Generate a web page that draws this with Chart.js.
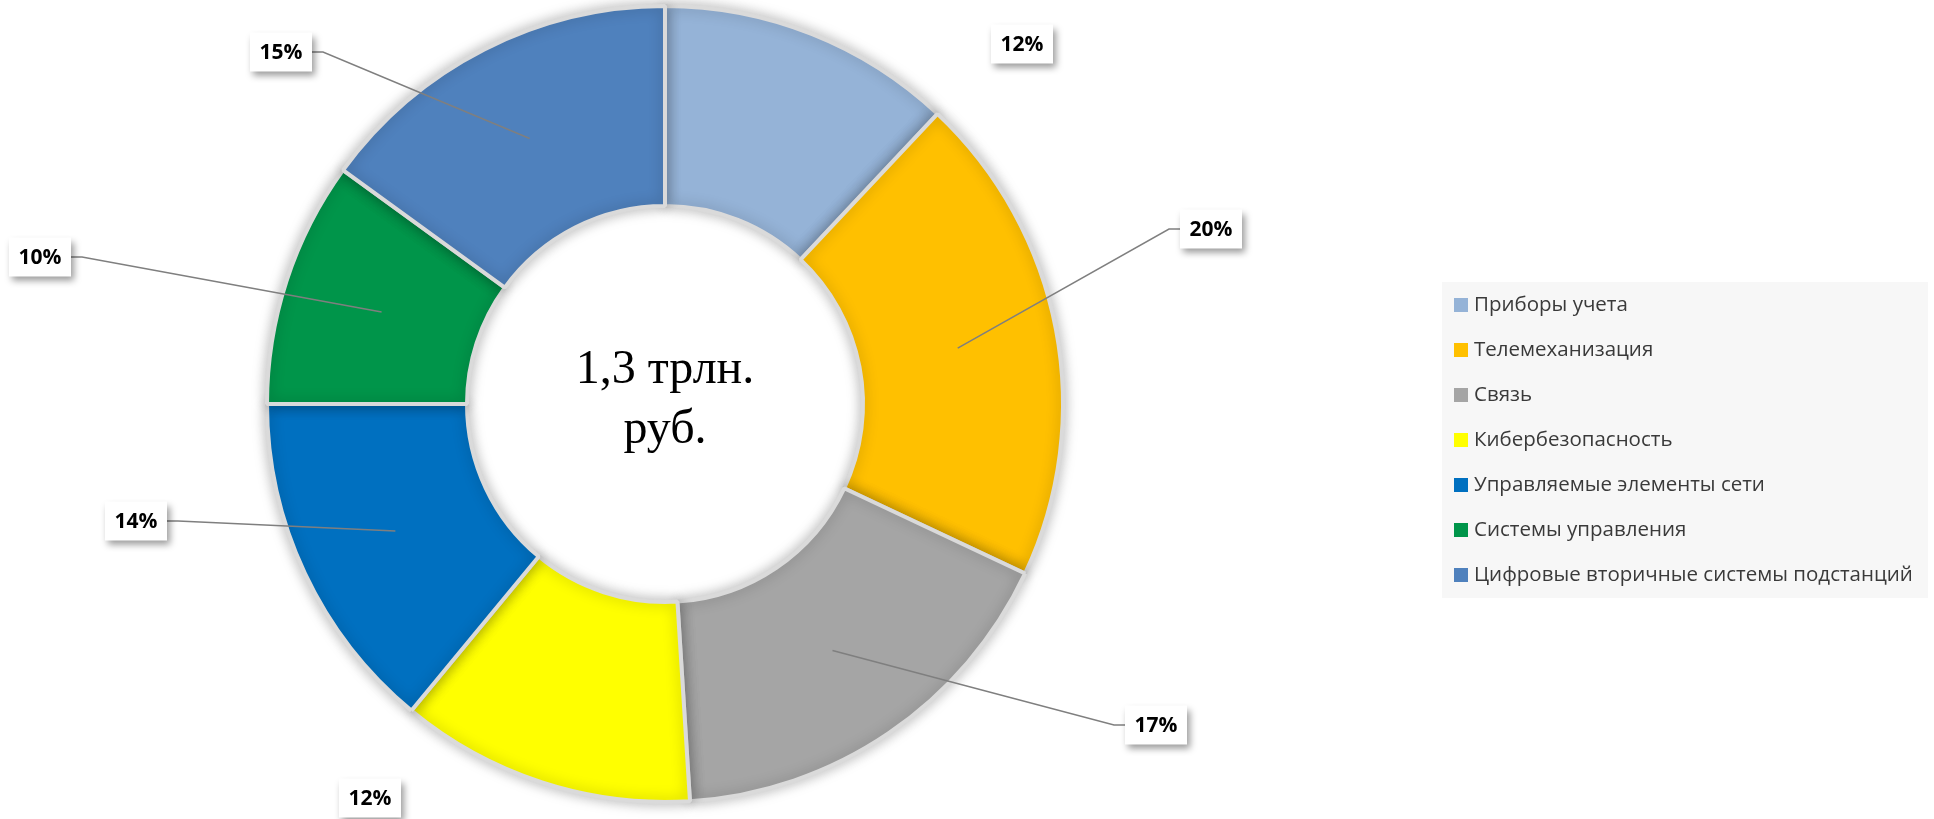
<!DOCTYPE html>
<html>
<head>
<meta charset="utf-8">
<script src="https://cdn.jsdelivr.net/npm/chart.js@4/dist/chart.umd.min.js"></script>
<style>
html, body { margin: 0; padding: 0; background: #fff; }
#wrap { position: relative; width: 1934px; height: 819px; }
</style>
</head>
<body>
<div id="wrap"><canvas id="donutChart" width="1934" height="819"></canvas></div>
<script>
const categories = ['Приборы учета', 'Телемеханизация', 'Связь', 'Кибербезопасность',
  'Управляемые элементы сети', 'Системы управления', 'Цифровые вторичные системы подстанций'];
const shares = [12, 20, 17, 12, 14, 10, 15];
const centerLines = ['1,3 трлн.', 'руб.'];

const sliceColors = ['#95b3d7', '#ffc000', '#a5a5a5', '#ffff00', '#0070c0', '#00954a', '#4f81bd'];

// where each % box sits, relative to the ring centre; leader = side the line joins
const labelSpots = [
  {dx: 357, dy: -360, leader: null},
  {dx: 546, dy: -175, leader: 'left'},
  {dx: 491, dy: 321, leader: 'left'},
  {dx: -295, dy: 394, leader: null},
  {dx: -529, dy: 117, leader: 'right'},
  {dx: -625, dy: -147, leader: 'right'},
  {dx: -384, dy: -352, leader: 'right'}
];

const decorPlugin = {
  id: 'decor',
  beforeDatasetsDraw(chart) {
    const ctx = chart.ctx;
    ctx.save();
    ctx.shadowColor = 'rgba(0,0,0,0.28)';
    ctx.shadowBlur = 14;
  },
  afterDatasetsDraw(chart) {
    const ctx = chart.ctx;
    ctx.restore();
    const area = chart.chartArea;
    const cx = (area.left + area.right) / 2;
    const cy = (area.top + area.bottom) / 2;

    // centre caption
    ctx.save();
    ctx.fillStyle = '#000';
    ctx.font = '48px "Liberation Serif"';
    ctx.textAlign = 'center';
    ctx.textBaseline = 'alphabetic';
    ctx.fillText(centerLines[0], cx, cy - 21);
    ctx.fillText(centerLines[1], cx, cy + 39);
    ctx.restore();

    // data labels with leader lines
    const meta = chart.getDatasetMeta(0);
    const bw = 62, bh = 39;
    meta.data.forEach((arc, i) => {
      const spot = labelSpots[i];
      const p = arc.getCenterPoint();
      const bx = cx + spot.dx, by = cy + spot.dy;
      if (spot.leader) {
        const edge = spot.leader === 'left' ? bx - bw / 2 : bx + bw / 2;
        const stub = spot.leader === 'left' ? edge - 11 : edge + 11;
        ctx.save();
        ctx.strokeStyle = '#7f7f7f';
        ctx.lineWidth = 1.5;
        ctx.beginPath();
        ctx.moveTo(p.x, p.y);
        ctx.lineTo(stub, by);
        ctx.lineTo(edge, by);
        ctx.stroke();
        ctx.restore();
      }
      ctx.save();
      ctx.shadowColor = 'rgba(0,0,0,0.4)';
      ctx.shadowBlur = 7;
      ctx.shadowOffsetX = 3;
      ctx.shadowOffsetY = 4;
      ctx.fillStyle = '#fff';
      ctx.fillRect(bx - bw / 2, by - bh / 2, bw, bh);
      ctx.restore();
      ctx.save();
      ctx.fillStyle = '#000';
      ctx.font = 'bold 21px "Open Sans"';
      ctx.textAlign = 'center';
      ctx.textBaseline = 'middle';
      ctx.fillText(shares[i] + '%', bx, by + 1);
      ctx.restore();
    });

    // legend panel
    const lx = 1442, ly = 282, lw = 486, lh = 316;
    ctx.save();
    ctx.fillStyle = '#f7f7f7';
    ctx.fillRect(lx, ly, lw, lh);
    ctx.font = '20.5px "Open Sans"';
    ctx.textBaseline = 'middle';
    ctx.textAlign = 'left';
    categories.forEach((name, i) => {
      const yMid = ly + 23 + i * 45;
      ctx.fillStyle = sliceColors[i];
      ctx.fillRect(lx + 12, yMid - 7, 14, 14);
      ctx.fillStyle = '#3a3a3a';
      ctx.fillText(name, lx + 32, yMid);
    });
    ctx.restore();
  }
};

new Chart(document.getElementById('donutChart').getContext('2d'), {
  type: 'doughnut',
  data: {
    labels: categories,
    datasets: [{
      data: shares,
      backgroundColor: sliceColors,
      borderColor: '#dadada',
      borderWidth: 4
    }]
  },
  options: {
    responsive: false,
    animation: false,
    radius: 398,
    cutout: 200,
    layout: { padding: { left: 0, right: 604, top: 0, bottom: 11 } },
    plugins: {
      legend: { display: false },
      tooltip: { enabled: false }
    }
  },
  plugins: [decorPlugin]
});
</script>
</body>
</html>
